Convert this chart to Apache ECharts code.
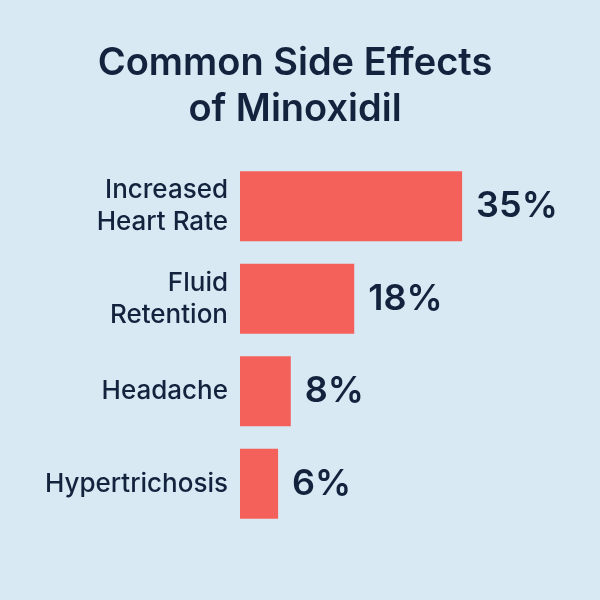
<!DOCTYPE html>
<html><head><meta charset="utf-8">
<script src="https://cdn.jsdelivr.net/npm/echarts@6/dist/echarts.min.js"></script>
<style>html,body{margin:0;padding:0;background:#d9e9f3;}#c{width:600px;height:600px;}</style>
</head><body><div id="c"></div>
<script>
const categories = ["Increased\nHeart Rate", "Fluid\nRetention", "Headache", "Hypertrichosis"];
const values = [35, 18, 8, 6];
const chart = echarts.init(document.getElementById('c'));
chart.setOption({
  backgroundColor: '#d9e9f3',
  title: {
    text: 'Common Side Effects\nof Minoxidil', left: 290, textAlign: 'center', top: 36,
    textStyle: { fontFamily: 'Inter', fontSize: 38, fontWeight: 600, color: '#13223d', lineHeight: 46 }
  },
  grid: { left: 240, right: 30, top: 160, bottom: 70 },
  xAxis: { type: 'value', min: 0, max: 52, show: false },
  yAxis: {
    type: 'category', data: categories, inverse: true,
    axisLine: { show: false }, axisTick: { show: false },
    axisLabel: { margin: 12, fontFamily: 'Inter', fontSize: 26, fontWeight: 500, color: '#13223d', lineHeight: 32, align: 'right' }
  },
  series: [{
    type: 'bar', data: values, barWidth: 70,
    itemStyle: { color: '#f4605a' },
    label: { show: true, position: 'right', distance: 14, formatter: '{c}%',
      fontFamily: 'Inter', fontSize: 36, fontWeight: 600, color: '#13223d' }
  }]
});
</script></body></html>
